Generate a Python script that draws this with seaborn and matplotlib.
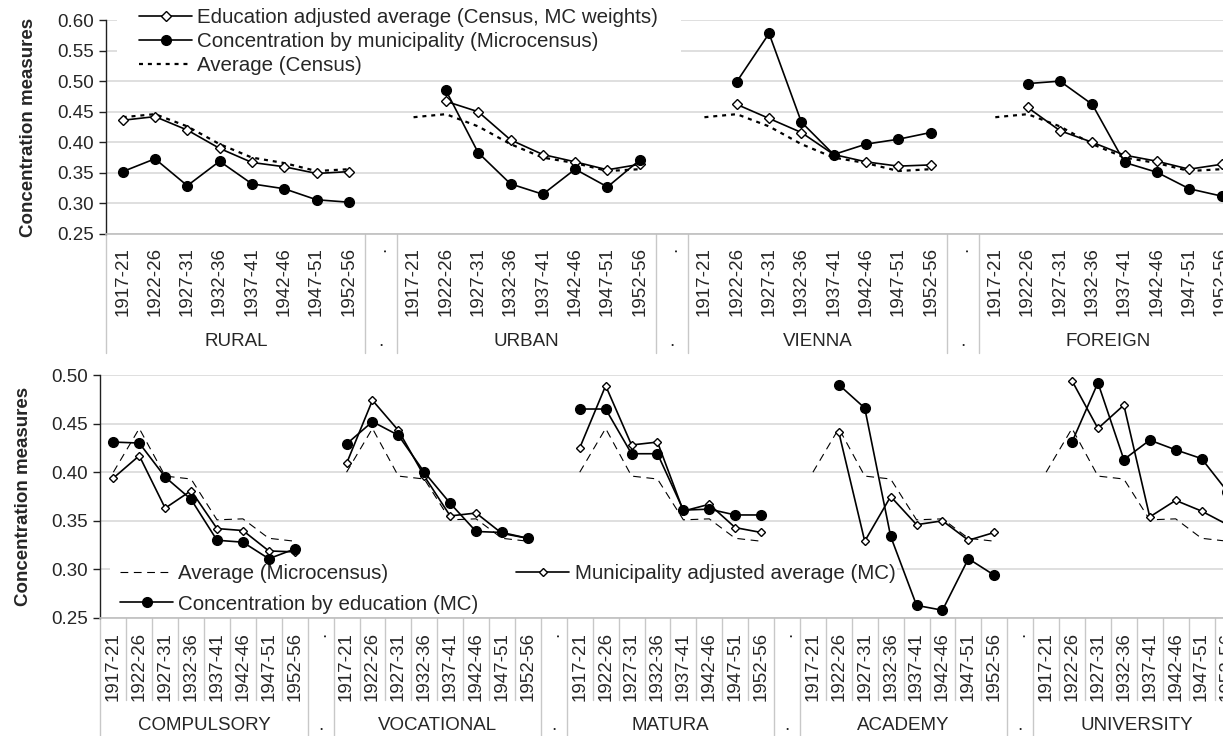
import numpy as np
import pandas as pd
import matplotlib
matplotlib.use('Agg')
import matplotlib.pyplot as plt
import seaborn as sns
from matplotlib.lines import Line2D
from matplotlib.patches import Rectangle
from matplotlib.ticker import FormatStrFormatter
from matplotlib.transforms import blended_transform_factory

nan = np.nan

periods = ['1917-21', '1922-26', '1927-31', '1932-36',
           '1937-41', '1942-46', '1947-51', '1952-56']
top_groups = ['RURAL', 'URBAN', 'VIENNA', 'FOREIGN']
bottom_groups = ['COMPULSORY', 'VOCATIONAL', 'MATURA', 'ACADEMY', 'UNIVERSITY']

# top panel: by region
census_avg = [0.441, 0.446, 0.426, 0.397, 0.375, 0.366, 0.353, 0.356]
rural_edu_adj = [0.436, 0.442, 0.420, 0.390, 0.367, 0.360, 0.349, 0.352]
urban_edu_adj = [nan, 0.467, 0.450, 0.404, 0.380, 0.368, 0.355, 0.364]
vienna_edu_adj = [nan, 0.462, 0.439, 0.416, 0.380, 0.368, 0.361, 0.363]
foreign_edu_adj = [nan, 0.457, 0.419, 0.400, 0.379, 0.369, 0.356, 0.364]
rural_muni = [0.352, 0.373, 0.329, 0.369, 0.332, 0.324, 0.306, 0.302]
urban_muni = [nan, 0.485, 0.383, 0.332, 0.315, 0.356, 0.327, 0.371]
vienna_muni = [nan, 0.499, 0.578, 0.433, 0.380, 0.397, 0.405, 0.416]
foreign_muni = [nan, 0.496, 0.500, 0.462, 0.367, 0.351, 0.324, 0.312]

# bottom panel: by education
mc_avg = [0.400, 0.445, 0.396, 0.393, 0.351, 0.352, 0.332, 0.329]
compulsory_muni_adj = [0.394, 0.417, 0.363, 0.381, 0.342, 0.340, 0.319, 0.318]
vocational_muni_adj = [0.409, 0.474, 0.443, 0.396, 0.355, 0.358, 0.337, 0.332]
matura_muni_adj = [0.425, 0.489, 0.428, 0.431, 0.360, 0.367, 0.343, 0.338]
academy_muni_adj = [nan, 0.441, 0.329, 0.375, 0.346, 0.350, 0.330, 0.338]
university_muni_adj = [nan, 0.494, 0.445, 0.469, 0.354, 0.371, 0.360, 0.346]
compulsory_edu = [0.431, 0.430, 0.395, 0.372, 0.330, 0.328, 0.311, 0.321]
vocational_edu = [0.429, 0.452, 0.438, 0.400, 0.368, 0.339, 0.338, 0.332]
matura_edu = [0.465, 0.465, 0.419, 0.419, 0.361, 0.362, 0.356, 0.356]
academy_edu = [nan, 0.490, 0.466, 0.334, 0.263, 0.258, 0.311, 0.294]
university_edu = [nan, 0.431, 0.492, 0.413, 0.433, 0.423, 0.414, 0.380]

sns.set_theme(style='white')
plt.rcParams['font.family'] = ['Liberation Sans', 'DejaVu Sans']

W, H = 1223, 736
fig = plt.figure(figsize=(W / 100, H / 100), dpi=100)
ax_top = fig.add_axes([106.5 / W, (H - 234) / H, 35 * 32.32 / W, 214 / H])
ax_bot = fig.add_axes([100.4 / W, (H - 618) / H, 44 * 25.91 / W, 243 / H])

GRID = '#d9d9d9'
SEP = '#c8c8c8'
TICK_FS = 13.5
LEG_FS = 14.8

diamond = dict(color='black', marker='D', markerfacecolor='white',
               markeredgecolor='black', markeredgewidth=1.0)
dot = dict(color='black', marker='o', markerfacecolor='black',
           markeredgecolor='black', markeredgewidth=1.0)


def draw_series(ax, g, vals, **style):
    x = [g * 9 + i for i in range(len(periods))]
    df = pd.DataFrame({'x': x, 'y': vals}).dropna()
    sns.lineplot(data=df, x='x', y='y', ax=ax, **style)


def dress_axis(ax, groups, ylim, lab_x, label_pad_px, group_px,
               sep_px, cat_lines_px=None):
    n_cat = len(groups) * 9 - 1
    ax.set_xlim(-0.5, n_cat - 0.5)
    ax.set_ylim(*ylim)
    ax.set_yticks(np.arange(ylim[0], ylim[1] + 0.001, 0.05))
    ax.yaxis.set_major_formatter(FormatStrFormatter('%.2f'))
    ax.set_axisbelow(True)
    ax.yaxis.grid(True, color=GRID, lw=1.2)
    ax.xaxis.grid(False)
    for s in ['top', 'right']:
        ax.spines[s].set_visible(False)
    ax.spines['left'].set_color('#202020')
    ax.spines['left'].set_linewidth(1.0)
    ax.spines['bottom'].set_color('#bfbfbf')
    ax.spines['bottom'].set_linewidth(1.2)
    ax.tick_params(axis='y', left=True, length=5, width=1.0, color='#202020',
                   labelsize=TICK_FS, pad=4)

    labels = []
    for g in range(len(groups)):
        labels += periods
        if g < len(groups) - 1:
            labels.append('.')
    ax.set_xticks(range(n_cat))
    ax.set_xticklabels(labels, rotation=90, fontsize=TICK_FS)
    ax.tick_params(axis='x', bottom=False, length=0,
                   pad=label_pad_px * 0.72)

    hpx = ax.bbox.height
    tr = blended_transform_factory(ax.transData, ax.transAxes)
    for g, name in enumerate(groups):
        ax.text(g * 9 + 3.5, -group_px / hpx, name, transform=tr,
                ha='center', va='center', fontsize=TICK_FS, clip_on=False)
        if g < len(groups) - 1:
            ax.text(g * 9 + 8, -group_px / hpx, '.', transform=tr,
                    ha='center', va='center', fontsize=TICK_FS, clip_on=False)
    edges = [-0.5]
    for g in range(len(groups) - 1):
        edges += [g * 9 + 7.5, g * 9 + 8.5]
    for e in edges:
        ax.plot([e, e], [0, -sep_px / hpx], transform=tr, color=SEP,
                lw=1.0, clip_on=False)
    if cat_lines_px:
        for k in range(n_cat - 1):
            e = k + 0.5
            if e in edges:
                continue
            ax.plot([e, e], [0, -cat_lines_px / hpx], transform=tr,
                    color=SEP, lw=1.0, clip_on=False)

    ax.set_xlabel('')
    ax.set_ylabel('Concentration measures', fontsize=TICK_FS,
                  fontweight='bold', va='center')
    ax.yaxis.set_label_coords(lab_x, 0.5)


# ---- top panel
edu_adj_top = [rural_edu_adj, urban_edu_adj, vienna_edu_adj, foreign_edu_adj]
muni_top = [rural_muni, urban_muni, vienna_muni, foreign_muni]
for g in range(len(top_groups)):
    draw_series(ax_top, g, census_avg, color='black', lw=1.6,
                linestyle=(0, (1.8, 2.2)))
    draw_series(ax_top, g, edu_adj_top[g], lw=1.2, markersize=4.6, **diamond)
    draw_series(ax_top, g, muni_top[g], lw=1.2, markersize=7, **dot)

dress_axis(ax_top, top_groups, (0.25, 0.60), (28.5 - 106.5) / (35 * 32.32),
           13, 108, 119)

ax_top.add_patch(Rectangle((117 / W, 1 - 76 / H), (681 - 117) / W, 76 / H,
                           transform=fig.transFigure, facecolor='white',
                           edgecolor='none', zorder=1, clip_on=False))
top_handles = [
    Line2D([], [], lw=1.2, markersize=4.6, **diamond),
    Line2D([], [], lw=1.2, markersize=7, **dot),
    Line2D([], [], color='black', lw=1.6, linestyle=(0, (1.8, 2.2))),
]
ax_top.legend(top_handles,
              ['Education adjusted average (Census, MC weights)',
               'Concentration by municipality (Microcensus)',
               'Average (Census)'],
              loc='upper left', bbox_to_anchor=(139 / W, 1 - 8 / H),
              bbox_transform=fig.transFigure, frameon=False, fontsize=LEG_FS,
              handlelength=2.58, handletextpad=0.25, labelspacing=0.24,
              borderpad=0, borderaxespad=0)

# ---- bottom panel
muni_adj_bot = [compulsory_muni_adj, vocational_muni_adj, matura_muni_adj,
                academy_muni_adj, university_muni_adj]
edu_bot = [compulsory_edu, vocational_edu, matura_edu, academy_edu,
           university_edu]
for g in range(len(bottom_groups)):
    draw_series(ax_bot, g, mc_avg, color='black', lw=0.8,
                linestyle=(0, (7, 5)))
    draw_series(ax_bot, g, muni_adj_bot[g], lw=1.2, markersize=4.2, **diamond)
    draw_series(ax_bot, g, edu_bot[g], lw=1.2, markersize=7, **dot)

dress_axis(ax_bot, bottom_groups, (0.25, 0.50), (24 - 100.4) / (44 * 25.91),
           14, 107, 125, cat_lines_px=82)

ax_bot.add_patch(Rectangle((110 / W, 1 - 616 / H), (897 - 110) / W, 60 / H,
                           transform=fig.transFigure, facecolor='white',
                           edgecolor='none', zorder=1, clip_on=False))
bot_handles = [
    Line2D([], [], color='black', lw=0.8, linestyle=(0, (7, 5))),
    Line2D([], [], lw=1.2, markersize=7, **dot),
    Line2D([], [], lw=1.2, markersize=4.2, **diamond),
]
ax_bot.legend(bot_handles,
              ['Average (Microcensus)', 'Concentration by education (MC)',
               'Municipality adjusted average (MC)'],
              ncol=2, loc='upper left', bbox_to_anchor=(120 / W, 1 - 564 / H),
              bbox_transform=fig.transFigure, frameon=False, fontsize=LEG_FS,
              handlelength=2.58, handletextpad=0.25, labelspacing=0.56,
              columnspacing=1.85, borderpad=0, borderaxespad=0)

fig.savefig('out.png', dpi=100)
